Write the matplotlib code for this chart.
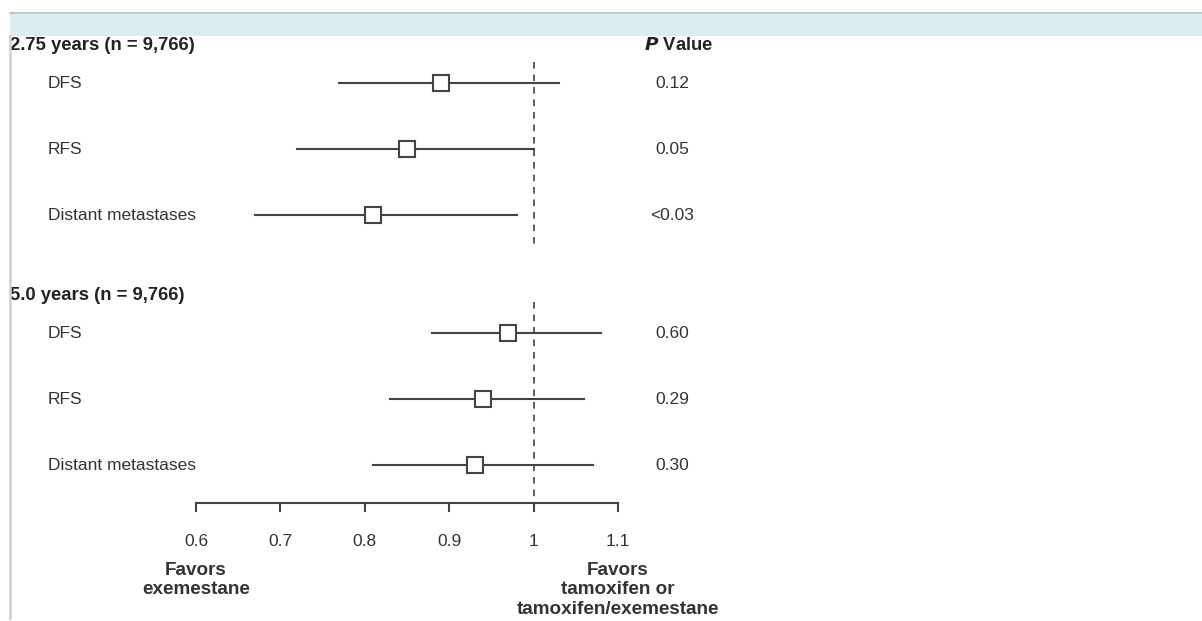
import numpy as np
import matplotlib
matplotlib.use('Agg')
import matplotlib.pyplot as plt
from matplotlib.patches import Rectangle

plt.rcParams['font.family'] = ['Liberation Sans', 'DejaVu Sans']

# hazard ratios
labels = ['DFS', 'RFS', 'Distant metastases']
hr_275 = [0.89, 0.85, 0.81]
lo_275 = [0.77, 0.72, 0.67]
hi_275 = [1.03, 1.00, 0.98]
p_275 = ['0.12', '0.05', '<0.03']

hr_50 = [0.97, 0.94, 0.93]
lo_50 = [0.88, 0.83, 0.81]
hi_50 = [1.08, 1.06, 1.07]
p_50 = ['0.60', '0.29', '0.30']

ticks = [0.6, 0.7, 0.8, 0.9, 1.0, 1.1]
tick_labels = ['0.6', '0.7', '0.8', '0.9', '1', '1.1']

W, H = 1202, 621
ppu = 844.0                 # pixels per unit of HR
x0 = 0.6 - 196 / ppu        # left edge of figure in HR units

fig = plt.figure(figsize=(W / 100, H / 100), dpi=100)
ax = fig.add_axes([0, 0, 1, 1])
ax.set_xlim(x0, x0 + W / ppu)
ax.set_ylim(H, 0)
ax.axis('off')

txt = '#333333'
ln = '#444444'

def px(p):
    return x0 + p / ppu

# top band and left border
fig.patches.append(Rectangle((10 / W, 1 - 36 / H), 1 - 10 / W, 24 / H,
                             transform=fig.transFigure, facecolor='#dcedf1',
                             edgecolor='none', zorder=0))
fig.lines.append(plt.Line2D([10 / W, 1], [1 - 12.5 / H, 1 - 12.5 / H],
                            transform=fig.transFigure, color='#b7c4c6', lw=1.2))
fig.lines.append(plt.Line2D([10 / W, 10 / W], [1 - 36 / H, 1 - 618 / H],
                            transform=fig.transFigure, color='#cfcfcf', lw=1.8))

groups = [
    ('2.75 years (n = 9,766)', 45, [83, 149, 215], hr_275, lo_275, hi_275, p_275, (62, 248)),
    ('5.0 years (n = 9,766)', 296, [333, 399, 465], hr_50, lo_50, hi_50, p_50, (302, 502)),
]

for title, ty, rows, hr, lo, hi, pv, dash in groups:
    ax.text(px(10), ty, title, fontsize=13.3, fontweight='bold', color='#222222',
            va='center', ha='left')
    ax.plot([1.0, 1.0], dash, color=ln, lw=1.2, ls=(0, (4, 3.5)))
    for i in range(len(labels)):
        y = rows[i]
        ax.text(px(48), y, labels[i], fontsize=12.5, color=txt, va='center', ha='left')
        ax.plot([lo[i], hi[i]], [y, y], color=ln, lw=1.5, zorder=2)
        ax.plot(hr[i], y, marker='s', ms=11, mfc='white', mec=ln, mew=1.5, zorder=3)
        ax.text(px(672), y, pv[i], fontsize=12.5, color=txt, va='center', ha='center')

ax.text(px(679), 45, r'$\bfit{P}$ Value', fontsize=13.3, fontweight='bold',
        color='#222222', va='center', ha='center')

# x axis
ax.plot([ticks[0], ticks[-1]], [503, 503], color=ln, lw=1.5)
for t, lab in zip(ticks, tick_labels):
    ax.plot([t, t], [503, 511], color=ln, lw=1.5)
    ax.text(t, 542, lab, fontsize=12.5, color=txt, va='center', ha='center')

ax.text(0.6, 580, 'Favors\nexemestane', fontsize=13.6, fontweight='bold', color=txt,
        va='center', ha='center', linespacing=1.22)
ax.text(1.1, 590, 'Favors\ntamoxifen or\ntamoxifen/exemestane', fontsize=13.6,
        fontweight='bold', color=txt, va='center', ha='center', linespacing=1.22)

fig.savefig('out.png', dpi=100)
